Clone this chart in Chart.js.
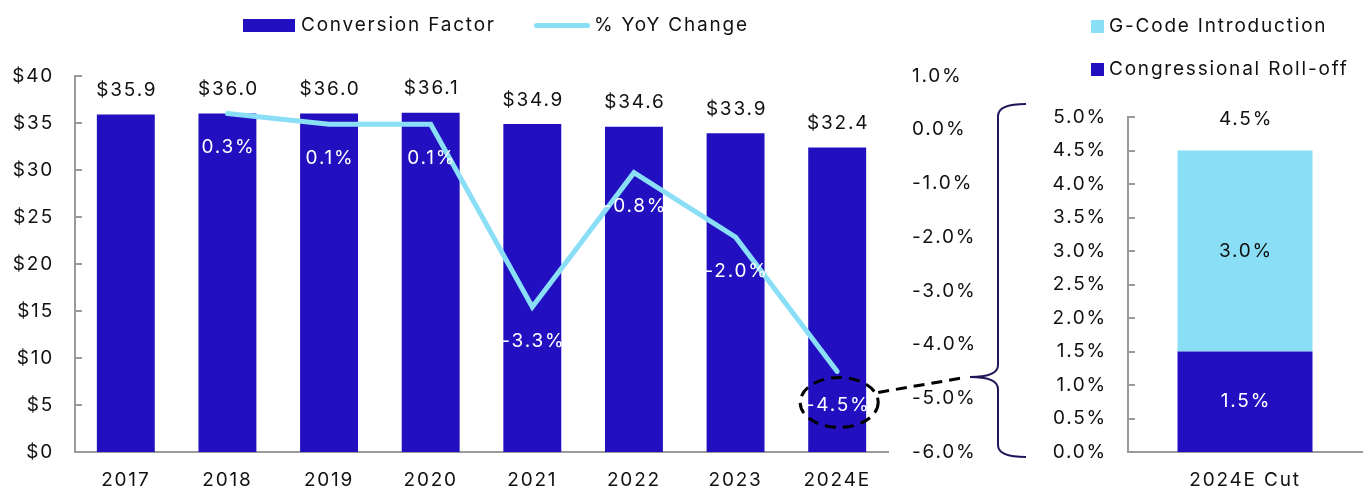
<!DOCTYPE html>
<html>
<head>
<meta charset="utf-8">
<script src="https://cdn.jsdelivr.net/npm/chart.js@4.4.1/dist/chart.umd.min.js"></script>
<style>
  html, body { margin: 0; padding: 0; background: #fff; }
  body { width: 1364px; height: 491px; position: relative; overflow: hidden; font-family: Inter, "Open Sans", sans-serif; color: #111; }
  #c1wrap { position: absolute; left: 0; top: 0; width: 1040px; height: 491px; }
  #c2wrap { position: absolute; left: 1040px; top: 0; width: 324px; height: 491px; }
  .lg { position: absolute; font-size: 19px; line-height: 22px; letter-spacing: 1.8px; white-space: nowrap; color: #111; }
  .sw { position: absolute; }
</style>
</head>
<body>
<div id="c1wrap"><canvas id="c1"></canvas></div>
<div id="c2wrap"><canvas id="c2"></canvas></div>

<div class="sw" style="left:243px;top:19px;width:52px;height:13px;background:#2210C0"></div>
<div class="lg" style="left:301px;top:14px">Conversion Factor</div>
<div class="sw" style="left:534px;top:23px;width:56px;height:5px;border-radius:3px;background:#8ADFF6"></div>
<div class="lg" style="left:594px;top:14px">% YoY Change</div>

<div class="sw" style="left:1091px;top:20px;width:13px;height:13px;background:#8ADFF6"></div>
<div class="lg" style="left:1109px;top:15px">G-Code Introduction</div>
<div class="sw" style="left:1091px;top:63px;width:13px;height:13px;background:#2210C0"></div>
<div class="lg" style="left:1109px;top:58px">Congressional Roll-off</div>

<script>
// ---- Data ----
const years = ['2017', '2018', '2019', '2020', '2021', '2022', '2023', '2024E'];
const conversionFactor = [35.9, 36.0, 36.0, 36.1, 34.9, 34.6, 33.9, 32.4];
const yoyChange = [null, 0.3, 0.1, 0.1, -3.3, -0.8, -2.0, -4.5];
const cutCategories = ['2024E Cut'];
const congressionalRollOff = [1.5];
const gCodeIntroduction = [3.0];
const cutTotal = [4.5];

const DARK = '#2210C0';
const LIGHT = '#8ADFF6';
const AXIS = '#9a9a9a';
const FONT = 'Inter, "Open Sans", sans-serif';
const FS = 19;
const SPACING = '1.8px';

Chart.defaults.font.family = FONT;
Chart.defaults.font.size = FS;
Chart.defaults.color = '#111';

const spacing = {
  id: 'spacing',
  beforeInit(chart) { chart.ctx.letterSpacing = SPACING; },
  beforeUpdate(chart) { chart.ctx.letterSpacing = SPACING; },
  beforeDraw(chart) { chart.ctx.letterSpacing = SPACING; }
};

// inside tick marks for axes with border
const insideTicks = {
  id: 'insideTicks',
  afterDraw(chart, args, opts) {
    const ctx = chart.ctx;
    (opts.axes || []).forEach(id => {
      const s = chart.scales[id];
      ctx.save();
      ctx.strokeStyle = AXIS;
      ctx.lineWidth = 2;
      s.ticks.forEach((t, i) => {
        const y = Math.round(s.getPixelForTick(i));
        ctx.beginPath();
        ctx.moveTo(s.right, y);
        ctx.lineTo(s.right + 7, y);
        ctx.stroke();
      });
      ctx.restore();
    });
  }
};

const leftLabels = {
  id: 'leftLabels',
  afterDatasetsDraw(chart) {
    const ctx = chart.ctx;
    ctx.save();
    ctx.font = FS + 'px ' + FONT;
    ctx.textAlign = 'center';
    ctx.textBaseline = 'middle';
    // bar labels
    const bm = chart.getDatasetMeta(0);
    bm.data.forEach((el, i) => {
      ctx.fillStyle = '#111';
      ctx.fillText('$' + conversionFactor[i].toFixed(1), el.x + 1, el.y - 24);
    });
    // line labels
    const lm = chart.getDatasetMeta(1);
    lm.data.forEach((el, i) => {
      if (yoyChange[i] === null) return;
      ctx.fillStyle = '#fff';
      ctx.fillText(yoyChange[i].toFixed(1) + '%', el.x + 1, el.y + 34);
    });
    ctx.restore();
  },
  afterDraw(chart) {
    const ctx = chart.ctx;
    const lm = chart.getDatasetMeta(1);
    const last = lm.data[lm.data.length - 1];
    const ca = chart.chartArea;
    const cx = last.x + 2, cy = last.y + 31;
    ctx.save();
    // dashed ellipse around last label
    ctx.strokeStyle = '#000';
    ctx.lineWidth = 3;
    ctx.setLineDash([11, 7]);
    ctx.beginPath();
    ctx.ellipse(cx, cy, 39, 25, 0, 0, Math.PI * 2);
    ctx.stroke();
    // dashed connector
    const tipX = ca.right + 82, tipY = 377;
    ctx.beginPath();
    ctx.moveTo(cx + 39, cy - 10);
    ctx.lineTo(tipX - 8, tipY + 1);
    ctx.stroke();
    ctx.setLineDash([]);
    // curly brace
    const vx = ca.right + 110, ex = ca.right + 138;
    const top = ca.top + 28, bot = ca.bottom + 5;
    ctx.strokeStyle = '#1d1658';
    ctx.lineWidth = 2;
    ctx.beginPath();
    ctx.moveTo(ex, top);
    ctx.quadraticCurveTo(vx, top, vx, top + 12);
    ctx.lineTo(vx, tipY - 12);
    ctx.quadraticCurveTo(vx, tipY, tipX, tipY);
    ctx.quadraticCurveTo(vx, tipY, vx, tipY + 12);
    ctx.lineTo(vx, bot - 12);
    ctx.quadraticCurveTo(vx, bot, ex, bot);
    ctx.stroke();
    ctx.restore();
  }
};

new Chart(document.getElementById('c1'), {
  data: {
    labels: years,
    datasets: [
      {
        type: 'bar',
        label: 'Conversion Factor',
        data: conversionFactor,
        backgroundColor: DARK,
        yAxisID: 'y',
        barPercentage: 0.57,
        categoryPercentage: 1.0,
        order: 1
      },
      {
        type: 'line',
        label: '% YoY Change',
        data: yoyChange,
        borderColor: LIGHT,
        backgroundColor: LIGHT,
        borderWidth: 5,
        pointRadius: 0,
        tension: 0,
        borderCapStyle: 'round',
        borderJoinStyle: 'miter',
        yAxisID: 'y1',
        order: 0
      }
    ]
  },
  options: {
    responsive: true,
    maintainAspectRatio: false,
    animation: false,
    layout: { padding: { top: 76, left: 0, right: 0, bottom: 0 } },
    plugins: { legend: { display: false }, tooltip: { enabled: false }, insideTicks: { axes: ['y'] } },
    scales: {
      x: {
        grid: { display: false, drawTicks: false },
        border: { display: true, color: AXIS, width: 2 },
        ticks: { padding: 17, color: '#111', font: { size: FS } },
        afterFit(s) { s.height = 39; }
      },
      y: {
        position: 'left',
        min: 0, max: 40,
        grid: { display: false, drawTicks: false },
        border: { display: true, color: AXIS, width: 2 },
        ticks: { stepSize: 5, padding: 21, color: '#111', callback: v => '$' + v },
        afterFit(s) { s.width = 75; }
      },
      y1: {
        position: 'right',
        min: -6, max: 1,
        grid: { display: false, drawTicks: false },
        border: { display: false },
        ticks: { stepSize: 1, padding: 24, color: '#111', callback: v => v.toFixed(1) + '%' },
        afterFit(s) { s.width = 152; }
      }
    }
  },
  plugins: [spacing, insideTicks, leftLabels]
});

const rightLabels = {
  id: 'rightLabels',
  afterDatasetsDraw(chart) {
    const ctx = chart.ctx;
    ctx.save();
    ctx.font = FS + 'px ' + FONT;
    ctx.textAlign = 'center';
    ctx.textBaseline = 'middle';
    const m0 = chart.getDatasetMeta(0), m1 = chart.getDatasetMeta(1);
    m0.data.forEach((el, i) => {
      ctx.fillStyle = '#fff';
      ctx.fillText(congressionalRollOff[i].toFixed(1) + '%', el.x + 1, (el.y + el.base) / 2);
    });
    m1.data.forEach((el, i) => {
      ctx.fillStyle = '#111';
      ctx.fillText(gCodeIntroduction[i].toFixed(1) + '%', el.x + 1, (el.y + el.base) / 2);
      const ty = chart.scales.y.getPixelForValue(cutTotal[i]);
      ctx.fillText(cutTotal[i].toFixed(1) + '%', el.x + 1, ty - 31);
    });
    ctx.restore();
  }
};

new Chart(document.getElementById('c2'), {
  type: 'bar',
  data: {
    labels: cutCategories,
    datasets: [
      { label: 'Congressional Roll-off', data: congressionalRollOff, backgroundColor: DARK, barPercentage: 0.577, categoryPercentage: 1.0 },
      { label: 'G-Code Introduction', data: gCodeIntroduction, backgroundColor: LIGHT, barPercentage: 0.577, categoryPercentage: 1.0 }
    ]
  },
  options: {
    responsive: true,
    maintainAspectRatio: false,
    animation: false,
    layout: { padding: { top: 117, left: 0, right: 2, bottom: 0 } },
    plugins: { legend: { display: false }, tooltip: { enabled: false }, insideTicks: { axes: ['y'] } },
    scales: {
      x: {
        stacked: true,
        grid: { display: false, drawTicks: false },
        border: { display: true, color: AXIS, width: 2 },
        ticks: { padding: 17, color: '#111' },
        afterFit(s) { s.height = 39; }
      },
      y: {
        stacked: true,
        min: 0, max: 5,
        grid: { display: false, drawTicks: false },
        border: { display: true, color: AXIS, width: 2 },
        ticks: { stepSize: 0.5, padding: 21, color: '#111', callback: v => v.toFixed(1) + '%' },
        afterFit(s) { s.width = 88; }
      }
    }
  },
  plugins: [spacing, insideTicks, rightLabels]
});
</script>
</body>
</html>
